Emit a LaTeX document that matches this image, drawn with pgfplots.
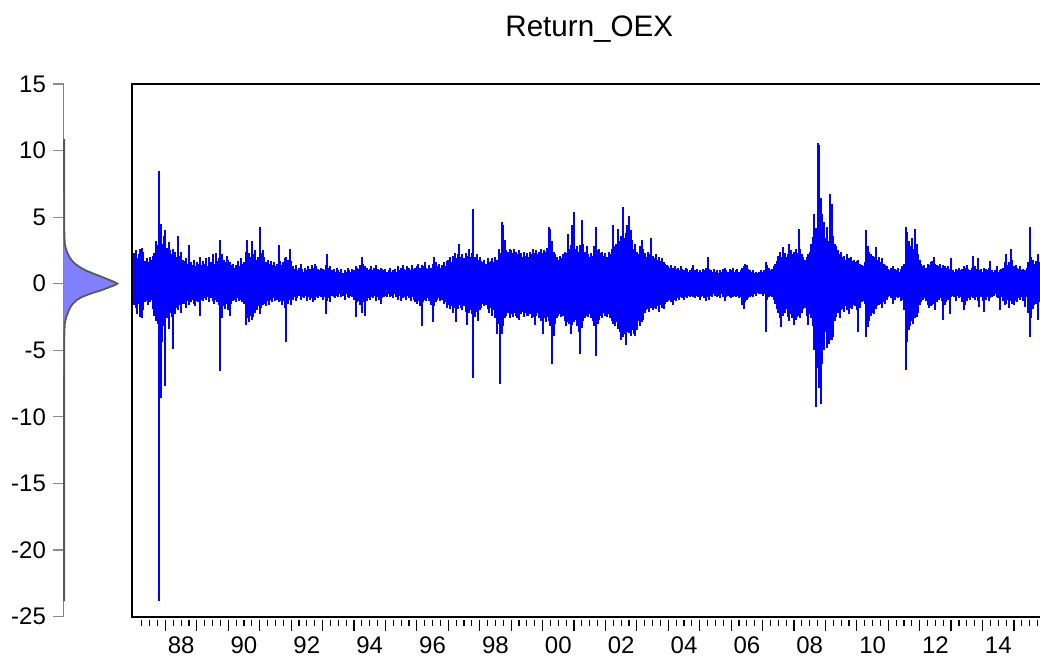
\documentclass[border=0pt]{standalone}
\usepackage{pgfplots}
\pgfplotsset{compat=1.18}
\usepackage{pgfplotstable}
\usepackage{fontspec}
\setmainfont{Liberation Sans}
\definecolor{densfill}{RGB}{128,128,255}
\definecolor{serblue}{RGB}{0,0,255}

\pgfplotstableread[row sep=\\]{
x hi lo\\
1987.00 2.3 -1.6\\ 1987.05 2.5 -1.8\\ 1987.10 1.9 -2.3\\ 1987.15 2.2 -1.5\\ 1987.20 2.6 -2.5\\
1987.25 2.7 -2.6\\ 1987.30 2.4 -2.0\\ 1987.35 1.7 -1.4\\ 1987.40 1.9 -1.3\\ 1987.45 1.6 -1.6\\
1987.50 2.0 -1.4\\ 1987.55 1.8 -1.2\\ 1987.60 2.1 -1.9\\ 1987.65 2.3 -2.4\\ 1987.70 3.2 -2.8\\
1987.75 2.9 -3.0\\ 1987.80 8.5 -23.8\\ 1987.85 4.5 -8.6\\ 1987.90 3.0 -4.4\\ 1987.95 3.6 -3.2\\
1988.00 4.0 -7.7\\ 1988.05 2.7 -2.6\\ 1988.10 3.1 -3.4\\ 1988.15 2.5 -2.2\\ 1988.20 2.2 -2.5\\
1988.25 2.6 -4.9\\ 1988.30 2.4 -2.3\\ 1988.35 2.0 -1.8\\ 1988.40 3.6 -2.0\\ 1988.45 2.1 -1.6\\
1988.50 2.4 -2.2\\ 1988.55 1.8 -1.5\\ 1988.60 1.7 -1.5\\ 1988.65 1.9 -1.8\\ 1988.70 1.5 -1.3\\
1988.75 2.9 -1.6\\ 1988.80 1.6 -1.4\\ 1988.85 1.4 -1.2\\ 1988.90 1.8 -1.5\\ 1988.95 1.3 -1.7\\
1989.00 1.6 -1.3\\ 1989.05 1.5 -1.4\\ 1989.10 2.0 -2.4\\ 1989.15 1.4 -1.2\\ 1989.20 1.7 -1.3\\
1989.25 1.5 -1.1\\ 1989.30 1.9 -1.2\\ 1989.35 1.3 -1.0\\ 1989.40 2.0 -1.4\\ 1989.45 1.6 -1.1\\
1989.50 2.2 -1.3\\ 1989.55 1.5 -1.5\\ 1989.60 2.3 -1.2\\ 1989.65 1.7 -1.4\\ 1989.70 1.9 -1.6\\
1989.75 3.25 -6.55\\ 1989.80 2.2 -2.6\\ 1989.85 1.8 -1.7\\ 1989.90 1.6 -1.9\\ 1989.95 2.1 -1.5\\
1990.00 1.8 -2.0\\ 1990.05 1.6 -2.4\\ 1990.10 1.4 -1.5\\ 1990.15 1.5 -1.3\\ 1990.20 1.2 -1.2\\
1990.25 1.4 -1.4\\ 1990.30 1.7 -1.1\\ 1990.35 1.3 -1.3\\ 1990.40 1.9 -1.2\\ 1990.45 1.5 -1.4\\
1990.50 1.6 -1.5\\ 1990.55 2.4 -3.1\\ 1990.60 3.25 -2.6\\ 1990.65 2.3 -2.9\\ 1990.70 2.0 -2.4\\
1990.75 3.2 -2.7\\ 1990.80 2.2 -2.5\\ 1990.85 2.5 -2.2\\ 1990.90 1.8 -2.0\\ 1990.95 2.0 -1.7\\
1991.00 4.25 -2.3\\ 1991.05 2.3 -1.8\\ 1991.10 2.55 -1.6\\ 1991.15 2.0 -1.5\\ 1991.20 1.6 -1.7\\
1991.25 1.8 -1.3\\ 1991.30 1.5 -1.6\\ 1991.35 1.7 -1.2\\ 1991.40 1.4 -1.4\\ 1991.45 1.6 -1.1\\
1991.50 1.3 -1.3\\ 1991.55 1.5 -1.2\\ 1991.60 2.9 -1.4\\ 1991.65 1.7 -1.3\\ 1991.70 1.4 -1.6\\
1991.75 1.6 -1.3\\ 1991.80 1.9 -1.8\\ 1991.85 2.0 -4.4\\ 1991.90 1.8 -1.5\\ 1991.95 2.6 -1.2\\
1992.00 1.7 -1.6\\ 1992.05 1.3 -1.2\\ 1992.10 1.1 -1.0\\ 1992.15 1.4 -1.3\\ 1992.20 1.0 -1.1\\
1992.25 1.2 -0.9\\ 1992.30 1.5 -1.2\\ 1992.35 1.1 -1.0\\ 1992.40 0.9 -1.1\\ 1992.45 1.2 -0.9\\
1992.50 1.0 -1.3\\ 1992.55 1.3 -1.0\\ 1992.60 1.1 -1.2\\ 1992.65 1.4 -1.1\\ 1992.70 1.2 -1.4\\
1992.75 1.5 -1.2\\ 1992.80 1.3 -1.0\\ 1992.85 1.1 -1.1\\ 1992.90 1.0 -0.9\\ 1992.95 1.2 -1.0\\
1993.00 1.1 -1.2\\ 1993.05 1.0 -1.0\\ 1993.10 1.4 -2.3\\ 1993.15 2.25 -1.3\\ 1993.20 1.2 -1.1\\
1993.25 1.3 -1.4\\ 1993.30 1.0 -0.9\\ 1993.35 1.1 -1.0\\ 1993.40 0.9 -1.1\\ 1993.45 1.2 -0.9\\
1993.50 1.0 -1.0\\ 1993.55 0.9 -0.8\\ 1993.60 1.1 -1.0\\ 1993.65 0.8 -0.9\\ 1993.70 1.0 -1.2\\
1993.75 0.9 -0.8\\ 1993.80 1.2 -1.0\\ 1993.85 1.0 -1.1\\ 1993.90 0.9 -0.9\\ 1993.95 1.1 -1.0\\
1994.00 1.0 -1.2\\ 1994.05 1.3 -2.5\\ 1994.10 1.2 -1.4\\ 1994.15 1.1 -1.3\\ 1994.20 1.4 -1.6\\
1994.25 2.0 -2.2\\ 1994.30 1.5 -1.4\\ 1994.35 1.3 -2.4\\ 1994.40 1.2 -1.3\\ 1994.45 1.0 -1.1\\
1994.50 1.1 -1.2\\ 1994.55 1.3 -1.0\\ 1994.60 1.0 -1.1\\ 1994.65 1.2 -0.9\\ 1994.70 1.4 -1.3\\
1994.75 1.1 -1.0\\ 1994.80 1.0 -1.2\\ 1994.85 1.2 -1.5\\ 1994.90 1.1 -1.1\\ 1994.95 1.0 -1.0\\
1995.00 1.1 -0.9\\ 1995.05 0.9 -1.0\\ 1995.10 1.0 -0.8\\ 1995.15 1.2 -1.0\\ 1995.20 0.9 -0.9\\
1995.25 1.0 -1.1\\ 1995.30 1.1 -0.8\\ 1995.35 0.9 -1.0\\ 1995.40 1.3 -1.2\\ 1995.45 1.0 -0.9\\
1995.50 1.2 -1.3\\ 1995.55 1.4 -1.1\\ 1995.60 1.1 -1.0\\ 1995.65 1.0 -1.2\\ 1995.70 1.3 -0.9\\
1995.75 1.2 -1.1\\ 1995.80 1.0 -1.3\\ 1995.85 1.4 -1.0\\ 1995.90 1.1 -1.2\\ 1995.95 1.2 -1.4\\
1996.00 1.3 -1.5\\ 1996.05 1.5 -1.3\\ 1996.10 1.2 -1.7\\ 1996.15 1.4 -3.2\\ 1996.20 1.3 -1.4\\
1996.25 1.6 -1.2\\ 1996.30 1.2 -1.3\\ 1996.35 1.1 -1.1\\ 1996.40 1.4 -1.3\\ 1996.45 1.2 -1.6\\
1996.50 1.5 -2.9\\ 1996.55 2.0 -1.7\\ 1996.60 1.6 -1.4\\ 1996.65 1.3 -1.2\\ 1996.70 1.5 -1.1\\
1996.75 1.2 -1.3\\ 1996.80 1.4 -1.2\\ 1996.85 1.6 -1.5\\ 1996.90 1.3 -1.4\\ 1996.95 1.7 -1.8\\
1997.00 1.8 -1.6\\ 1997.05 2.0 -1.9\\ 1997.10 1.6 -1.7\\ 1997.15 2.1 -2.2\\ 1997.20 2.3 -1.8\\
1997.25 1.9 -2.9\\ 1997.30 2.2 -1.9\\ 1997.35 3.0 -1.6\\ 1997.40 2.0 -1.8\\ 1997.45 2.2 -2.0\\
1997.50 1.9 -1.7\\ 1997.55 2.3 -2.1\\ 1997.60 2.1 -3.1\\ 1997.65 2.6 -2.2\\ 1997.70 2.0 -2.0\\
1997.75 2.3 -2.3\\ 1997.80 5.6 -7.1\\ 1997.85 2.0 -2.5\\ 1997.90 2.2 -2.1\\ 1997.95 1.8 -2.8\\
1998.00 2.0 -2.0\\ 1998.05 1.7 -1.8\\ 1998.10 1.6 -1.5\\ 1998.15 1.8 -1.7\\ 1998.20 1.5 -1.6\\
1998.25 1.9 -1.9\\ 1998.30 1.6 -2.2\\ 1998.35 1.7 -1.8\\ 1998.40 1.9 -2.4\\ 1998.45 1.6 -2.0\\
1998.50 2.0 -2.6\\ 1998.55 1.8 -3.75\\ 1998.60 2.6 -3.0\\ 1998.65 2.3 -7.5\\ 1998.70 4.6 -3.75\\
1998.75 4.4 -3.2\\ 1998.80 3.3 -2.6\\ 1998.85 2.5 -2.4\\ 1998.90 2.4 -2.2\\ 1998.95 2.6 -2.6\\
1999.00 2.5 -2.3\\ 1999.05 2.3 -2.5\\ 1999.10 2.6 -2.2\\ 1999.15 2.4 -2.4\\ 1999.20 2.2 -2.6\\
1999.25 2.5 -2.75\\ 1999.30 2.3 -2.3\\ 1999.35 2.0 -2.1\\ 1999.40 2.4 -2.5\\ 1999.45 2.1 -2.2\\
1999.50 2.3 -2.4\\ 1999.55 2.0 -2.4\\ 1999.60 2.4 -2.3\\ 1999.65 2.2 -2.6\\ 1999.70 2.6 -2.5\\
1999.75 2.3 -3.1\\ 1999.80 2.5 -2.4\\ 1999.85 2.2 -2.2\\ 1999.90 2.4 -2.6\\ 1999.95 2.6 -2.8\\
2000.00 2.3 -3.8\\ 2000.05 2.5 -2.6\\ 2000.10 2.4 -2.9\\ 2000.15 2.7 -2.5\\ 2000.20 4.25 -2.8\\
2000.25 4.1 -3.2\\ 2000.30 3.2 -6.0\\ 2000.35 2.4 -3.9\\ 2000.40 2.2 -3.0\\ 2000.45 2.0 -2.6\\
2000.50 1.8 -2.4\\ 2000.55 2.1 -2.3\\ 2000.60 1.9 -2.5\\ 2000.65 2.2 -2.4\\ 2000.70 2.4 -2.8\\
2000.75 2.3 -3.2\\ 2000.80 3.75 -2.9\\ 2000.85 2.6 -3.0\\ 2000.90 2.9 -3.8\\ 2000.95 4.4 -3.1\\
2001.00 5.4 -2.9\\ 2001.05 2.6 -2.7\\ 2001.10 2.8 -3.2\\ 2001.15 2.4 -3.6\\ 2001.20 2.9 -5.25\\
2001.25 4.75 -3.3\\ 2001.30 3.0 -2.8\\ 2001.35 2.4 -2.6\\ 2001.40 2.8 -2.4\\ 2001.45 2.2 -2.5\\
2001.50 2.0 -2.3\\ 2001.55 2.3 -2.6\\ 2001.60 2.1 -2.8\\ 2001.65 2.8 -3.2\\ 2001.70 4.25 -5.4\\
2001.75 2.5 -3.0\\ 2001.80 2.6 -2.7\\ 2001.85 2.3 -2.4\\ 2001.90 2.4 -2.6\\ 2001.95 2.1 -2.2\\
2002.00 2.3 -2.4\\ 2002.05 2.0 -2.5\\ 2002.10 2.4 -2.3\\ 2002.15 2.2 -2.6\\ 2002.20 2.6 -2.8\\
2002.25 4.4 -3.0\\ 2002.30 2.8 -3.2\\ 2002.35 3.0 -2.9\\ 2002.40 4.1 -3.4\\ 2002.45 3.2 -3.6\\
2002.50 3.6 -4.25\\ 2002.55 5.75 -4.0\\ 2002.60 3.4 -3.8\\ 2002.65 3.8 -4.6\\ 2002.70 4.4 -3.6\\
2002.75 5.05 -3.7\\ 2002.80 4.0 -3.9\\ 2002.85 3.3 -3.5\\ 2002.90 2.6 -3.8\\ 2002.95 3.0 -3.9\\
2003.00 2.4 -3.5\\ 2003.05 2.2 -2.8\\ 2003.10 2.8 -3.2\\ 2003.15 3.3 -2.9\\ 2003.20 2.6 -2.7\\
2003.25 2.3 -2.2\\ 2003.30 2.0 -2.0\\ 2003.35 2.4 -1.9\\ 2003.40 2.2 -2.1\\ 2003.45 3.4 -1.8\\
2003.50 2.1 -2.0\\ 2003.55 1.9 -1.8\\ 2003.60 2.2 -1.9\\ 2003.65 1.8 -1.7\\ 2003.70 2.0 -2.1\\
2003.75 1.7 -1.6\\ 2003.80 1.9 -1.8\\ 2003.85 1.6 -1.9\\ 2003.90 1.5 -1.5\\ 2003.95 1.4 -1.4\\
2004.00 1.3 -1.3\\ 2004.05 1.2 -1.2\\ 2004.10 1.4 -1.4\\ 2004.15 1.2 -1.6\\ 2004.20 1.3 -1.2\\
2004.25 1.1 -1.3\\ 2004.30 1.2 -1.1\\ 2004.35 1.0 -1.2\\ 2004.40 1.3 -1.0\\ 2004.45 1.1 -1.1\\
2004.50 1.0 -1.2\\ 2004.55 1.2 -1.0\\ 2004.60 1.1 -1.1\\ 2004.65 0.9 -0.9\\ 2004.70 1.0 -1.0\\
2004.75 1.2 -0.9\\ 2004.80 1.4 -1.0\\ 2004.85 1.0 -1.1\\ 2004.90 1.1 -0.9\\ 2004.95 0.9 -1.0\\
2005.00 1.0 -1.2\\ 2005.05 0.9 -1.0\\ 2005.10 1.1 -0.9\\ 2005.15 1.0 -1.1\\ 2005.20 1.2 -1.3\\
2005.25 2.0 -1.0\\ 2005.30 1.1 -1.2\\ 2005.35 1.0 -0.9\\ 2005.40 0.9 -1.0\\ 2005.45 1.1 -0.8\\
2005.50 0.9 -0.9\\ 2005.55 1.0 -1.0\\ 2005.60 0.8 -0.9\\ 2005.65 1.0 -1.1\\ 2005.70 0.9 -0.8\\
2005.75 1.1 -1.0\\ 2005.80 1.2 -1.3\\ 2005.85 1.0 -1.0\\ 2005.90 0.9 -0.9\\ 2005.95 1.1 -1.0\\
2006.00 1.0 -1.1\\ 2006.05 1.2 -1.0\\ 2006.10 0.9 -0.9\\ 2006.15 1.0 -1.0\\ 2006.20 1.1 -0.9\\
2006.25 0.9 -1.1\\ 2006.30 1.0 -1.0\\ 2006.35 1.2 -1.6\\ 2006.40 1.3 -1.9\\ 2006.45 1.5 -1.4\\
2006.50 1.4 -1.2\\ 2006.55 1.1 -1.1\\ 2006.60 1.0 -1.0\\ 2006.65 0.9 -0.9\\ 2006.70 1.0 -1.0\\
2006.75 0.8 -0.8\\ 2006.80 0.9 -0.9\\ 2006.85 0.8 -0.7\\ 2006.90 0.9 -0.8\\ 2006.95 1.0 -0.8\\
2007.00 0.9 -0.9\\ 2007.05 1.0 -0.8\\ 2007.10 1.6 -3.6\\ 2007.15 1.4 -1.2\\ 2007.20 1.2 -1.0\\
2007.25 1.0 -0.9\\ 2007.30 1.1 -1.0\\ 2007.35 1.3 -1.2\\ 2007.40 1.5 -1.5\\ 2007.45 1.7 -1.9\\
2007.50 2.1 -2.2\\ 2007.55 2.4 -2.6\\ 2007.60 2.0 -3.25\\ 2007.65 2.75 -2.4\\ 2007.70 2.3 -2.2\\
2007.75 2.0 -1.9\\ 2007.80 2.2 -2.5\\ 2007.85 3.0 -2.8\\ 2007.90 2.5 -2.3\\ 2007.95 2.2 -2.6\\
2008.00 2.4 -3.1\\ 2008.05 2.6 -2.7\\ 2008.10 2.3 -2.5\\ 2008.15 4.1 -2.4\\ 2008.20 2.6 -2.6\\
2008.25 2.2 -2.2\\ 2008.30 2.0 -1.9\\ 2008.35 1.8 -1.8\\ 2008.40 2.0 -2.4\\ 2008.45 2.2 -3.1\\
2008.50 2.4 -2.3\\ 2008.55 3.0 -2.6\\ 2008.60 3.5 -3.2\\ 2008.65 5.25 -5.0\\ 2008.70 4.2 -9.25\\
2008.75 10.6 -6.3\\ 2008.80 10.4 -7.8\\ 2008.85 6.4 -9.0\\ 2008.90 5.25 -6.0\\ 2008.95 4.6 -5.0\\
2009.00 3.4 -3.6\\ 2009.05 4.25 -4.8\\ 2009.10 3.2 -4.5\\ 2009.15 6.75 -4.2\\ 2009.20 6.0 -4.25\\
2009.25 3.6 -4.0\\ 2009.30 3.0 -2.8\\ 2009.35 2.8 -2.5\\ 2009.40 2.5 -2.2\\ 2009.45 2.2 -2.6\\
2009.50 2.4 -2.0\\ 2009.55 2.0 -1.9\\ 2009.60 2.1 -2.1\\ 2009.65 1.8 -1.7\\ 2009.70 2.2 -2.0\\
2009.75 1.9 -2.3\\ 2009.80 2.0 -1.8\\ 2009.85 1.7 -1.9\\ 2009.90 1.8 -1.6\\ 2009.95 1.6 -1.7\\
2010.00 1.7 -2.0\\ 2010.05 1.8 -3.6\\ 2010.10 1.5 -1.8\\ 2010.15 1.4 -1.4\\ 2010.20 1.3 -1.3\\
2010.25 1.6 -1.5\\ 2010.30 4.0 -4.0\\ 2010.35 2.8 -3.25\\ 2010.40 2.4 -2.8\\ 2010.45 2.2 -2.4\\
2010.50 2.1 -2.2\\ 2010.55 2.0 -2.3\\ 2010.60 2.75 -1.9\\ 2010.65 1.8 -1.7\\ 2010.70 2.0 -1.6\\
2010.75 1.6 -1.5\\ 2010.80 1.9 -1.8\\ 2010.85 1.5 -1.4\\ 2010.90 1.4 -1.5\\ 2010.95 1.3 -1.2\\
2011.00 1.1 -1.0\\ 2011.05 1.0 -0.9\\ 2011.10 1.2 -1.1\\ 2011.15 1.3 -1.5\\ 2011.20 1.1 -1.2\\
2011.25 1.0 -1.0\\ 2011.30 1.2 -1.1\\ 2011.35 0.9 -1.0\\ 2011.40 1.1 -1.3\\ 2011.45 1.3 -1.2\\
2011.50 1.5 -2.0\\ 2011.55 4.25 -6.5\\ 2011.60 3.9 -4.4\\ 2011.65 3.2 -3.5\\ 2011.70 2.8 -3.2\\
2011.75 3.4 -2.8\\ 2011.80 2.6 -3.0\\ 2011.85 4.1 -2.6\\ 2011.90 3.0 -2.5\\ 2011.95 2.2 -2.2\\
2012.00 1.8 -1.6\\ 2012.05 1.5 -1.4\\ 2012.10 1.3 -1.2\\ 2012.15 1.4 -1.1\\ 2012.20 1.2 -1.3\\
2012.25 1.5 -1.6\\ 2012.30 1.4 -1.8\\ 2012.35 1.6 -1.7\\ 2012.40 1.7 -1.6\\ 2012.45 2.0 -1.5\\
2012.50 1.5 -2.0\\ 2012.55 1.4 -1.4\\ 2012.60 1.3 -1.2\\ 2012.65 1.5 -1.1\\ 2012.70 1.2 -1.3\\
2012.75 1.4 -2.75\\ 2012.80 1.3 -1.6\\ 2012.85 1.2 -1.4\\ 2012.90 1.3 -1.2\\ 2012.95 1.1 -2.25\\
2013.00 1.9 -1.0\\ 2013.05 1.0 -0.9\\ 2013.10 0.9 -1.0\\ 2013.15 1.1 -1.3\\ 2013.20 1.0 -0.9\\
2013.25 1.2 -1.1\\ 2013.30 1.0 -1.0\\ 2013.35 1.1 -1.4\\ 2013.40 1.3 -2.0\\ 2013.45 1.2 -1.6\\
2013.50 1.4 -1.3\\ 2013.55 1.1 -1.1\\ 2013.60 1.0 -1.2\\ 2013.65 1.2 -1.0\\ 2013.70 2.1 -1.1\\
2013.75 1.3 -1.2\\ 2013.80 1.1 -1.0\\ 2013.85 1.9 -1.3\\ 2013.90 1.0 -1.75\\ 2013.95 1.1 -1.0\\
2014.00 0.9 -1.3\\ 2014.05 1.2 -2.1\\ 2014.10 1.1 -1.2\\ 2014.15 1.0 -1.0\\ 2014.20 1.2 -1.3\\
2014.25 1.7 -1.1\\ 2014.30 1.0 -1.0\\ 2014.35 0.9 -0.9\\ 2014.40 1.0 -0.8\\ 2014.45 1.3 -1.0\\
2014.50 0.9 -1.1\\ 2014.55 1.0 -2.0\\ 2014.60 1.1 -1.0\\ 2014.65 1.2 -1.3\\ 2014.70 1.6 -1.6\\
2014.75 2.2 -1.5\\ 2014.80 1.4 -1.2\\ 2014.85 1.6 -1.8\\ 2014.90 2.6 -1.3\\ 2014.95 1.75 -1.5\\
2015.00 1.3 -1.6\\ 2015.05 1.4 -1.3\\ 2015.10 1.2 -1.4\\ 2015.15 1.1 -1.1\\ 2015.20 1.3 -1.2\\
2015.25 1.0 -1.0\\ 2015.30 1.1 -1.3\\ 2015.35 1.0 -1.75\\ 2015.40 1.2 -1.0\\ 2015.45 1.6 -2.2\\
2015.50 4.25 -4.0\\ 2015.55 2.0 -2.6\\ 2015.60 1.8 -1.9\\ 2015.65 1.5 -1.6\\ 2015.70 1.7 -1.5\\
2015.75 2.2 -2.75\\ 2015.80 1.6 -1.4\\
}\returns

\pgfplotstableread[row sep=\\]{
d y\\
0 10.8\\ 0.012 10.8\\ 0.012 9\\ 0.012 7\\ 0.013 5\\ 0.015 4\\ 0.018 3.5\\ 0.025 3.0\\
0.037 2.75\\ 0.055 2.5\\ 0.08 2.25\\ 0.11 2.0\\ 0.155 1.75\\ 0.215 1.5\\ 0.30 1.25\\
0.41 1.0\\ 0.56 0.75\\ 0.72 0.5\\ 0.87 0.25\\ 0.96 0.1\\ 1.0 0\\ 0.96 -0.1\\ 0.86 -0.25\\
0.70 -0.5\\ 0.50 -0.75\\ 0.34 -1.0\\ 0.24 -1.25\\ 0.175 -1.5\\ 0.13 -1.75\\ 0.10 -2.0\\
0.05 -2.5\\ 0.025 -3.0\\ 0.018 -3.5\\ 0.015 -4\\ 0.013 -5\\ 0.012 -7\\ 0.012 -10\\
0.012 -15\\ 0.012 -20\\ 0.012 -23.8\\ 0 -23.8\\
}\density

\begin{document}
\begin{tikzpicture}[x=1pt,y=1pt]
\useasboundingbox (0,0) rectangle (520,329.5);

% kernel density on the left axis
\begin{axis}[
  at={(31.75pt,21.25pt)}, anchor=south west, scale only axis,
  width=26.9pt, height=266.25pt,
  xmin=0, xmax=1, ymin=-25, ymax=15,
  axis x line=none, axis y line=left,
  axis line style={-, draw=black!50, line width=0.8pt},
  ytick={-25,-20,...,15}, ytick pos=left,
  tick align=outside, major tick length=5.25pt,
  ytick style={draw=black!45, line width=0.6pt},
  yticklabel style={font=\fontsize{12}{14}\selectfont, text=black},
  /pgf/number format/assume math mode=true,
  clip=false,
]
\addplot[draw=black!65, fill=densfill, line width=0.9pt] table[x=d,y=y] {\density};
\end{axis}

% main time series
\begin{axis}[
  at={(66.15pt,21.25pt)}, anchor=south west, scale only axis,
  width=454.35pt, height=266.25pt,
  xmin=1986.947, xmax=2015.858, ymin=-25, ymax=15,
  axis line style={line width=1pt, black},
  ytick=\empty,
  xtick={1988,...,2015}, xticklabels={},
  minor xtick={1987.25,1987.5,...,2015.75},
  xtick pos=bottom, tick align=outside,
  major tick length=5.5pt, minor tick length=3pt,
  every tick/.append style={black, line width=0.6pt, yshift=-1.5pt},
  extra x ticks={1988.5,1990.5,...,2014.5},
  extra x tick labels={88,90,92,94,96,98,00,02,04,06,08,10,12,14},
  extra x tick style={major tick length=0pt, xticklabel style={yshift=-6.75pt}},
  xticklabel style={font=\fontsize{12}{14}\selectfont},
]
\addplot[ycomb, draw=serblue, line width=1pt, mark=none] table[x=x,y=hi] {\returns};
\addplot[ycomb, draw=serblue, line width=1pt, mark=none] table[x=x,y=lo] {\returns};
\end{axis}

\node[anchor=base, font=\fontsize{14.8}{17}\selectfont] at (294.65,311.15) {Return\_OEX};
\end{tikzpicture}
\end{document}
